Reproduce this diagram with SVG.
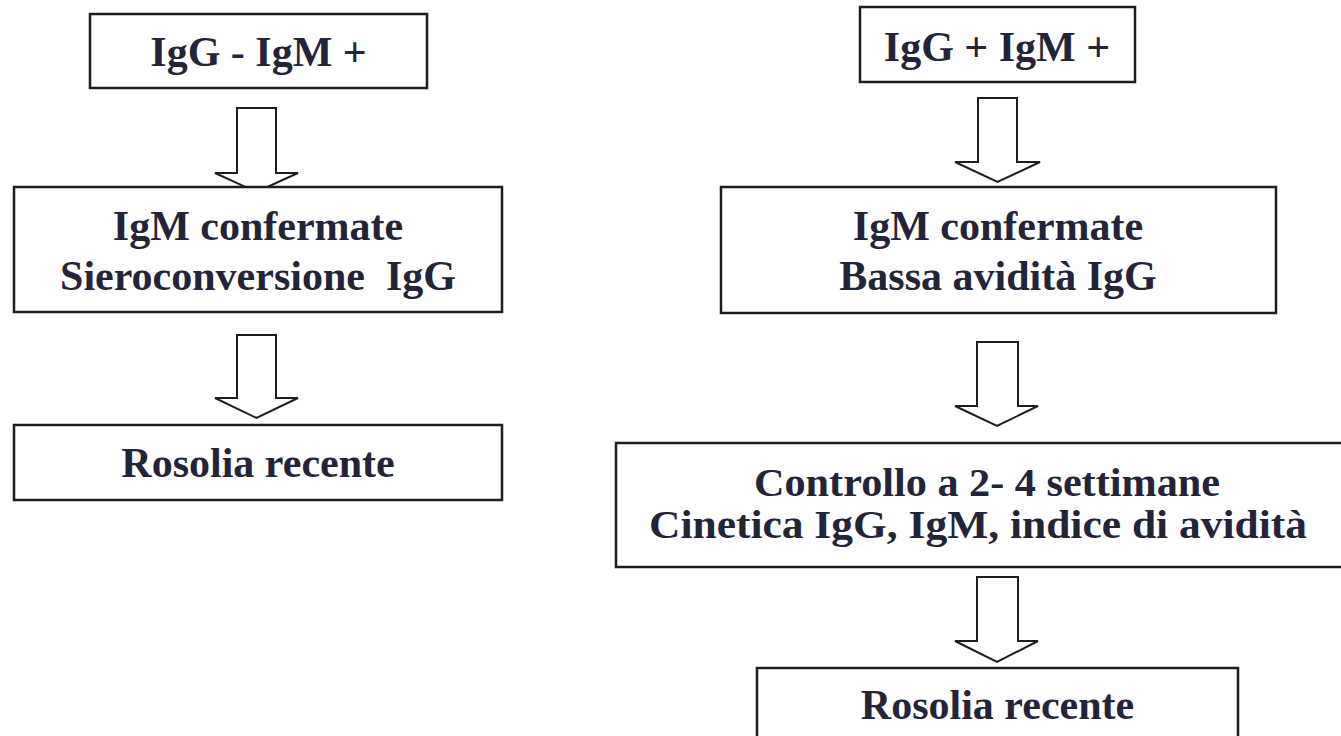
<svg xmlns="http://www.w3.org/2000/svg" width="1341" height="736" viewBox="0 0 1341 736">
<style>
.box{fill:#ffffff;stroke:#1e1e1e;stroke-width:2.5}
.arr{fill:#ffffff;stroke:#1e1e1e;stroke-width:2;stroke-linejoin:miter}
.t{font-family:'Liberation Serif','Times New Roman',serif;font-weight:700;font-size:42px;fill:#242438;text-anchor:middle}
.c{font-size:40px}
</style>
<rect width="1341" height="736" fill="#ffffff"/>
<g id="connectors">
<path class="arr" d="M237,108 H276 V173 H298 L256.5,192 L215,173 H237 Z"/>
<path class="arr" d="M237,335 H276 V398 H298 L256.5,418 L215,398 H237 Z"/>
<path class="arr" d="M978,98 H1017 V162 H1040 L997.5,182 L955,162 H978 Z"/>
<path class="arr" d="M977,342 H1018 V406 H1038 L997,426 L955,406 H977 Z"/>
<path class="arr" d="M977,577 H1018 V641 H1038 L997,662 L955,641 H977 Z"/>
</g>
<g id="n1">
<rect class="box" x="90" y="14" width="337" height="74"/>
<text class="t" x="258.5" y="66">IgG - IgM +</text>
</g>
<g id="n2">
<rect class="box" x="14" y="187" width="488" height="125"/>
<text class="t" x="258" y="240">IgM confermate</text>
<text class="t" x="258" y="290" xml:space="preserve">Sieroconversione  IgG</text>
</g>
<g id="n3">
<rect class="box" x="14" y="425" width="488" height="75"/>
<text class="t" x="258" y="477">Rosolia recente</text>
</g>
<g id="n4">
<rect class="box" x="860" y="7" width="275" height="75"/>
<text class="t" x="997" y="61">IgG + IgM +</text>
</g>
<g id="n5">
<rect class="box" x="721" y="187" width="555" height="126"/>
<text class="t" x="998" y="240">IgM confermate</text>
<text class="t" x="998" y="290">Bassa avidità IgG</text>
</g>
<g id="n6">
<rect class="box" x="616" y="443" width="730" height="124"/>
<text class="t c" x="987" y="496" textLength="466" lengthAdjust="spacingAndGlyphs">Controllo a 2- 4 settimane</text>
<text class="t c" x="978" y="538" textLength="658" lengthAdjust="spacingAndGlyphs">Cinetica IgG, IgM, indice di avidità</text>
</g>
<g id="n7">
<rect class="box" x="757" y="668" width="481" height="80"/>
<text class="t" x="997.5" y="719">Rosolia recente</text>
</g>
</svg>
